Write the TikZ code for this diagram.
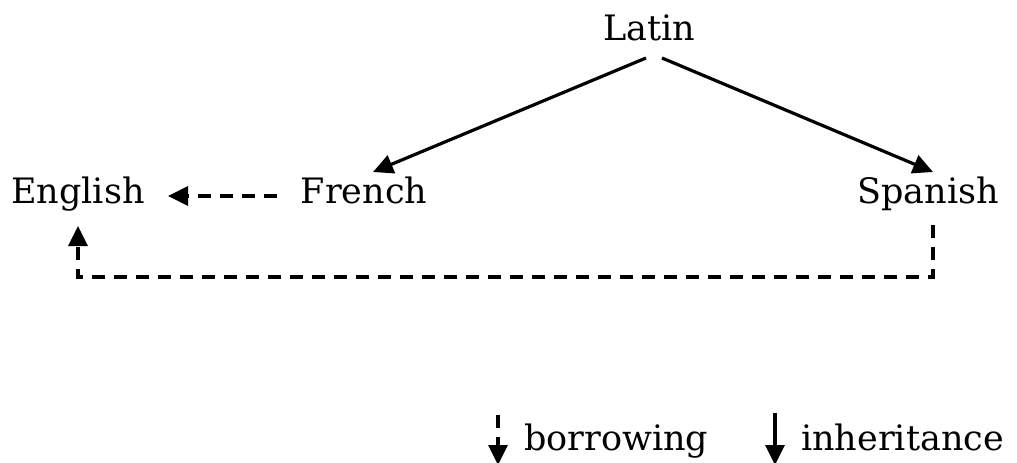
\documentclass[tikz,border=0pt]{standalone}
\usepackage{fontspec}
\setmainfont{DejaVu Serif}
\usetikzlibrary{arrows.meta,calc}
\begin{document}
\begin{tikzpicture}[x=1pt,y=-1pt,
  lbl/.style={inner sep=0pt,anchor=base,font=\fontsize{35}{40}\selectfont},
  inh/.style={line width=3.2pt,-{Triangle[length=20pt,width=19pt]}},
  brw/.style={line width=3.2pt,dash pattern=on 13pt off 9pt,-{Triangle[length=20pt,width=19pt]}}]
\useasboundingbox (0,0) rectangle (1017,463);
\node[lbl] (latin) at (649,40) {Latin};
\node[lbl] (english) at (78,203) {English};
\node[lbl] (french) at (364,203) {French};
\node[lbl] (spanish) at (928,203) {Spanish};
\draw[inh] ($(latin.base)+(-3,18)$) -- ($(french.base)+(9,-31)$);
\draw[inh] ($(latin.base)+(13,18)$) -- ($(spanish.base)+(5,-31)$);
\draw[brw] ($(french.base)+(-87,-7)$) -- ($(english.base)+(90,-7)$);
\draw[brw] ($(spanish.base)+(5,22)$) |- ($(english.base)+(0,74)$) -- ($(english.base)+(0,23)$);
\node[lbl,anchor=base west] (borrowing) at (524,450) {borrowing};
\node[lbl,anchor=base west] (inheritance) at (801,450) {inheritance};
\draw[brw] ($(borrowing.base west)+(-26,-35)$) -- ($(borrowing.base west)+(-26,15)$);
\draw[inh] ($(inheritance.base west)+(-26,-37)$) -- ($(inheritance.base west)+(-26,15)$);
\end{tikzpicture}
\end{document}
